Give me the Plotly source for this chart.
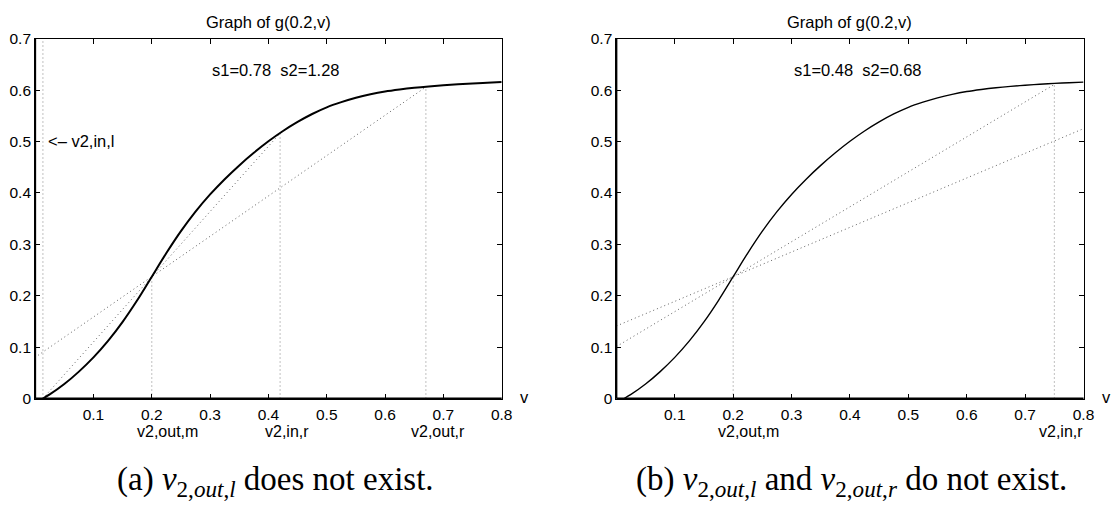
import plotly.graph_objects as go

FONT = "Liberation Sans, Arial, Helvetica, sans-serif"
SERIF = "Liberation Serif, Times New Roman, serif"

# ---- data ----
curve_v = [0.0133, 0.025, 0.05, 0.075, 0.1, 0.125, 0.15, 0.175, 0.2, 0.225, 0.25, 0.275,
           0.3, 0.325, 0.35, 0.375, 0.4, 0.425, 0.45, 0.475, 0.5, 0.525, 0.55, 0.575,
           0.6, 0.625, 0.65, 0.675, 0.7, 0.725, 0.75, 0.775, 0.8]
curve_g = [0.0, 0.0079, 0.0281, 0.0523, 0.080, 0.1121, 0.1491, 0.1911, 0.237, 0.283, 0.3256, 0.3635,
           0.397, 0.4267, 0.4535, 0.478, 0.5004, 0.5204, 0.538, 0.5535, 0.5665, 0.5765, 0.585, 0.5918,
           0.5972, 0.6012, 0.6045, 0.6072, 0.6095, 0.6114, 0.613, 0.6143, 0.6155]

left_vlines_v = [0.0133, 0.2, 0.42, 0.67]
left_vlines_top = [0.7, 0.237, 0.516, 0.606]
left_chords_v = [[0.0133, 0.42], [0.005, 0.67]]
left_chords_g = [[0.0, 0.516], [0.084, 0.606]]

right_vlines_v = [0.2, 0.75]
right_vlines_top = [0.237, 0.613]
right_chords_v = [[0.0, 0.75], [0.0, 0.8]]
right_chords_g = [[0.101, 0.611], [0.141, 0.525]]

x_tickvals = [0.1, 0.2, 0.3, 0.4, 0.5, 0.6, 0.7, 0.8]
x_ticktext = ["0.1", "0.2", "0.3", "0.4", "0.5", "0.6", "0.7", "0.8"]
y_tickvals = [0, 0.1, 0.2, 0.3, 0.4, 0.5, 0.6, 0.7]
y_ticktext = ["0", "0.1", "0.2", "0.3", "0.4", "0.5", "0.6", "0.7"]

title_text = "Graph of g(0.2,v)"
left_s_text = "s1=0.78\u00a0\u00a0s2=1.28"
right_s_text = "s1=0.48\u00a0\u00a0s2=0.68"
left_vline_labels = ["v2,out,m", "v2,in,r", "v2,out,r"]   # for left_vlines_v[1:]
right_vline_labels = ["v2,out,m", "v2,in,r"]
left_arrow_text = "<\u2013 v2,in,l"
left_caption = "(a) <i>v</i><sub>2,<i>out</i>,<i>l</i></sub> does not exist."
right_caption = ("(b) <i>v</i><sub>2,<i>out</i>,<i>l</i></sub> and "
                 "<i>v</i><sub>2,<i>out</i>,<i>r</i></sub> do not exist.")

DOT = "1px,3px"
fig = go.Figure()


def add_panel(xa, ya, vl_v, vl_top, ch_v, ch_g, curve_w):
    xs, ys = [], []
    for v, t in zip(vl_v, vl_top):
        xs += [v, v, None]
        ys += [0, t, None]
    fig.add_trace(go.Scatter(x=xs, y=ys, mode="lines", xaxis=xa, yaxis=ya,
                             line=dict(color="#808080", width=1, dash=DOT),
                             hoverinfo="skip", showlegend=False))
    xs, ys = [], []
    for cv, cg in zip(ch_v, ch_g):
        xs += cv + [None]
        ys += cg + [None]
    fig.add_trace(go.Scatter(x=xs, y=ys, mode="lines", xaxis=xa, yaxis=ya,
                             line=dict(color="#606060", width=1, dash=DOT),
                             hoverinfo="skip", showlegend=False))
    fig.add_trace(go.Scatter(x=curve_v, y=curve_g, mode="lines", xaxis=xa, yaxis=ya,
                             line=dict(color="black", width=curve_w, shape="spline"),
                             hoverinfo="skip", showlegend=False))


add_panel("x", "y", left_vlines_v, left_vlines_top, left_chords_v, left_chords_g, 2)
add_panel("x2", "y2", right_vlines_v, right_vlines_top, right_chords_v, right_chords_g, 1.4)

tick_font = dict(family=FONT, size=15.5, color="black")
ax_common = dict(range=[0, 0.8], tickvals=x_tickvals, ticktext=x_ticktext,
                 ticks="inside", ticklen=5, tickwidth=1, tickcolor="black",
                 showline=True, linecolor="black", linewidth=1, mirror="ticks",
                 showgrid=False, zeroline=False, tickfont=tick_font, ticklabelstandoff=2)
ay_common = dict(range=[0, 0.7], tickvals=y_tickvals, ticktext=y_ticktext,
                 ticks="inside", ticklen=5, tickwidth=1, tickcolor="black",
                 showline=True, linecolor="black", linewidth=1, mirror="ticks",
                 showgrid=False, zeroline=False, tickfont=tick_font,
                 domain=[0.2051, 0.9394])

fig.update_layout(
    width=1118, height=507, autosize=False,
    margin=dict(l=0, r=0, t=0, b=0),
    paper_bgcolor="white", plot_bgcolor="white",
    xaxis=dict(domain=[0.03175, 0.4532], anchor="y", **ax_common),
    yaxis=dict(anchor="x", **ay_common),
    xaxis2=dict(domain=[0.5568, 0.9788], anchor="y2", **ax_common),
    yaxis2=dict(anchor="x2", **ay_common),
)

for xa, ya in [("x", "y"), ("x2", "y2")]:
    fig.add_shape(type="line", xref=f"{xa} domain", yref=f"{ya} domain",
                  x0=0, x1=0, y0=0, y1=1, line=dict(color="black", width=2), layer="above")
    fig.add_shape(type="line", xref=f"{xa} domain", yref=f"{ya} domain",
                  x0=0, x1=1, y0=0, y1=0, line=dict(color="black", width=2), layer="above")

ann = []
ftxt = dict(family=FONT, size=16.5, color="black")
flab = dict(family=FONT, size=16, color="black")
for xa, ya, stext in [("x", "y", left_s_text), ("x2", "y2", right_s_text)]:
    ann.append(dict(text=title_text, xref=f"{xa} domain", yref="paper", x=0.5, y=0.9732,
                    xanchor="center", yanchor="middle", showarrow=False, font=ftxt))
    ann.append(dict(text=stext, xref=xa, yref=ya, x=0.30, y=0.64,
                    xanchor="left", yanchor="middle", showarrow=False, font=ftxt))
    ann.append(dict(text="v", xref=xa, yref=ya, x=0.8, y=0, xshift=16, yshift=2,
                    xanchor="left", yanchor="middle", showarrow=False, font=ftxt))

LABEL_Y = 0.137  # paper coordinate of the line of labels under the x axis
for v, lab in zip(left_vlines_v[1:], left_vline_labels):
    ann.append(dict(text=lab, xref="x", yref="paper", x=v, y=LABEL_Y, xshift=-17,
                    xanchor="left", yanchor="middle", showarrow=False, font=flab))
for v, lab in zip(right_vlines_v, right_vline_labels):
    ann.append(dict(text=lab, xref="x2", yref="paper", x=v, y=LABEL_Y, xshift=-17,
                    xanchor="left", yanchor="middle", showarrow=False, font=flab))

ann.append(dict(text=left_arrow_text, xref="x", yref="y", x=left_vlines_v[0], y=0.5,
                xshift=3, xanchor="left", yanchor="middle", showarrow=False, font=ftxt))

fserif = dict(family=SERIF, size=33, color="black")
ann.append(dict(text=left_caption, xref="paper", yref="paper", x=0.2492, y=0.036,
                xanchor="center", yanchor="middle", showarrow=False, font=fserif))
ann.append(dict(text=right_caption, xref="paper", yref="paper", x=0.7692, y=0.036,
                xanchor="center", yanchor="middle", showarrow=False, font=fserif))

fig.update_layout(annotations=ann)
fig.write_html("out.html")
